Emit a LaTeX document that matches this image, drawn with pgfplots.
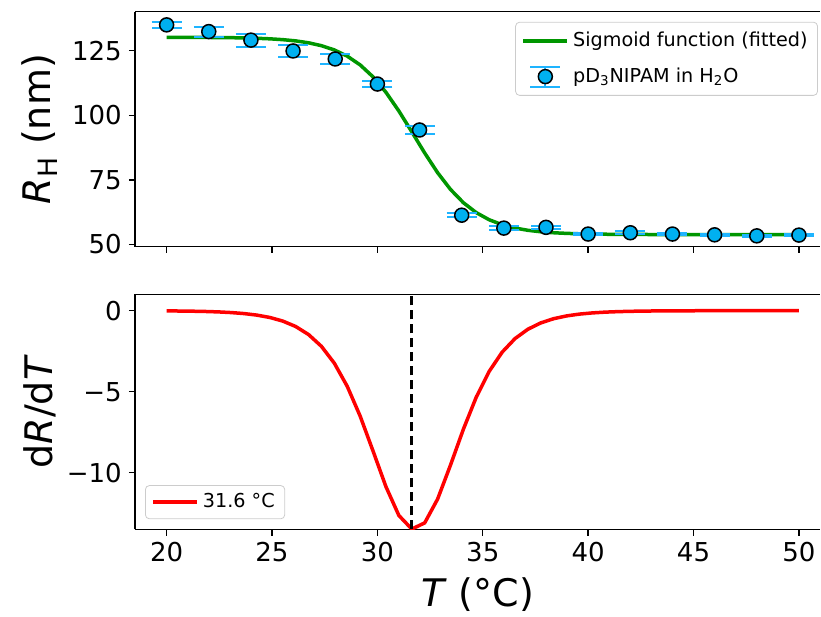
\documentclass[border=0pt]{standalone}
\usepackage{fontspec}
\setmainfont{DejaVu Sans}
\usepackage{pgfplots}
\usepackage{pgfplotstable}
\pgfplotsset{compat=1.18}

\definecolor{fitgreen}{RGB}{0,150,0}
\definecolor{dotblue}{RGB}{0,176,240}
\definecolor{errblue}{RGB}{30,180,255}
\definecolor{legframe}{RGB}{204,204,204}

% fitted sigmoid and its derivative, sampled on 50 points
\pgfplotstableread{
T R dR
20.000 130.18 -0.013
20.612 130.17 -0.021
21.224 130.16 -0.032
21.837 130.13 -0.049
22.449 130.09 -0.075
23.061 130.04 -0.116
23.673 129.95 -0.178
24.286 129.81 -0.274
24.898 129.60 -0.419
25.510 129.28 -0.641
26.122 128.80 -0.975
26.735 128.06 -1.473
27.347 126.94 -2.203
27.959 125.29 -3.244
28.571 122.89 -4.670
29.184 119.49 -6.509
29.796 114.85 -8.667
30.408 108.87 -10.866
31.020 101.64 -12.638
31.633 93.58 -13.474
32.245 85.39 -13.093
32.857 77.77 -11.626
33.469 71.28 -9.528
34.082 66.13 -7.307
34.694 62.28 -5.327
35.306 59.53 -3.743
35.918 57.62 -2.562
36.531 56.32 -1.721
37.143 55.45 -1.143
37.755 54.88 -0.753
38.367 54.50 -0.493
38.980 54.26 -0.322
39.592 54.10 -0.210
40.204 53.99 -0.137
40.816 53.93 -0.089
41.429 53.88 -0.058
42.041 53.85 -0.038
42.653 53.83 -0.024
43.265 53.82 -0.016
43.878 53.81 -0.010
44.490 53.81 -0.007
45.102 53.80 -0.004
45.714 53.80 -0.003
46.327 53.80 -0.002
46.939 53.80 -0.001
47.551 53.80 -0.001
48.163 53.80 -0.001
48.776 53.80 0.000
49.388 53.80 0.000
50.000 53.80 0.000
}\fitdata

% measured hydrodynamic radius
\pgfplotstableread{
T R e
20 135.0 1.3
22 132.4 1.9
24 129.1 2.5
26 124.9 2.2
28 121.8 2.1
30 112.1 1.3
32 94.3 1.4
34 61.3 0.7
36 56.3 0.8
38 56.6 0.7
40 54.0 0.5
42 54.5 0.5
44 54.0 0.5
46 53.7 0.4
48 53.3 0.4
50 53.6 0.5
}\measured

\pgfplotsset{
  panel/.style={
    scale only axis, width=342.5pt, height=117.5pt,
    xmin=18.5, xmax=51.0,
    axis y line*=left,
    tick pos=left, tick align=outside,
    major tick length=3.1pt,
    every tick/.style={black, line width=0.71pt},
    axis line style={line width=0.71pt},
    xtick={20,25,...,50},
    tick label style={font=\fontsize{13}{15}\selectfont},
    /pgf/number format/assume math mode=true,
    label style={font=\fontsize{19}{22}\selectfont},
    ylabel style={at={(axis description cs:-0.139,0.5)}, anchor=center},
    legend cell align=left,
    legend style={draw=legframe, rounded corners=2pt, fill=white,
      fill opacity=0.8, text opacity=1,
      font=\fontsize{9.6}{11}\selectfont},
  },
}

\begin{document}
\begin{tikzpicture}
\path[use as bounding box] (0,0) rectangle (410.5pt,-308.5pt);

\begin{axis}[panel, at={(67.5pt,-123.35pt)}, anchor=south west,
  ymin=49.1, ymax=140.1, ytick={50,75,100,125}, xticklabels={},
  ylabel={\textit{R}\textsubscript{H} (nm)},
  legend style={at={(0.997,0.957)}, anchor=north east, row sep=5pt,
    inner ysep=3pt}]
\addplot[fitgreen, line width=1.75pt,
  legend image code/.code={\draw[fitgreen, line width=1.75pt] (0pt,0pt) -- (22pt,0pt);}]
  table[x=T, y=R] {\fitdata};
\addlegendentry{Sigmoid function (fitted)}
\addplot[forget plot, only marks, mark=none,
  error bars/.cd, y dir=both, y explicit,
  error bar style={errblue, line width=1pt},
  error mark=|, error mark options={errblue, line width=1pt, mark size=7.5pt}]
  table[x=T, y=R, y error=e] {\measured};
\addplot[only marks, mark=*, mark size=3.5pt,
  mark options={fill=dotblue, draw=black, line width=0.75pt},
  legend image code/.code={
    \draw[errblue, line width=1pt] (3.5pt,5pt) -- (18.5pt,5pt) (3.5pt,-5pt) -- (18.5pt,-5pt) (11pt,-5pt) -- (11pt,5pt);
    \draw[black, fill=dotblue, fill opacity=1, line width=0.75pt] (11pt,0pt) circle (3.5pt);}]
  table[x=T, y=R] {\measured};
\addlegendentry{pD\textsubscript{3}NIPAM in H\textsubscript{2}O}
\end{axis}

\begin{axis}[panel, at={(67.5pt,-264.65pt)}, anchor=south west,
  ymin=-13.49, ymax=1.01, ytick={-10,-5,0}, yticklabels={−10,−5,0},
  xlabel={\textit{T} (°C)},
  xlabel style={at={(axis description cs:0.5,-0.276)}, anchor=center},
  ylabel={d\textit{R}/d\textit{T}},
  legend style={at={(0.0146,0.043)}, anchor=south west}]
\addplot[red, line width=1.75pt,
  legend image code/.code={\draw[red, line width=1.75pt] (0pt,0pt) -- (22pt,0pt);}]
  table[x=T, y=dR] {\fitdata};
\addlegendentry{31.6 °C}
\addplot[forget plot, black, line width=1.4pt, dash pattern=on 4.5pt off 2.5pt]
  coordinates {(31.6,-13.49) (31.6,1.01)};
\end{axis}
\end{tikzpicture}
\end{document}
